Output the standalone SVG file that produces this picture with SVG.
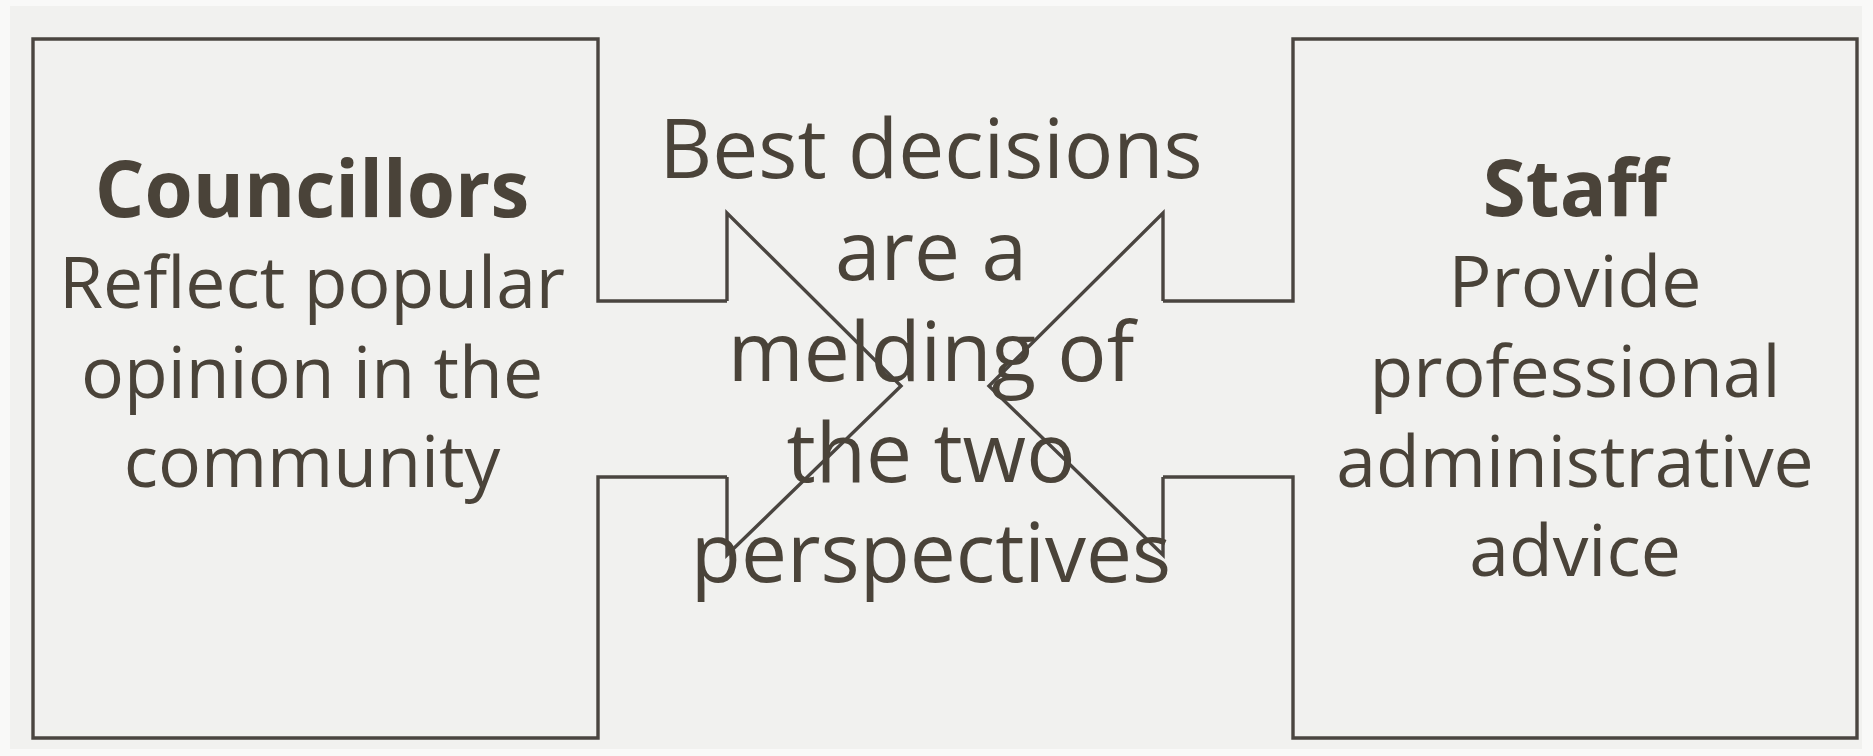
<svg xmlns="http://www.w3.org/2000/svg" width="1873" height="756" viewBox="0 0 1873 756">
<style>
.ln{fill:none;stroke:#4a4540;stroke-width:3.4;stroke-linejoin:miter}
.t{font-family:"Open Sans","DejaVu Sans",sans-serif;fill:#4a4339;text-anchor:middle}
.side{font-size:71.5px}
.hd{font-size:78px;font-weight:bold}
.ctr{font-size:82px}
</style>
<rect x="0" y="0" width="1873" height="756" fill="#f9f9f8"/>
<rect x="10" y="6" width="1852" height="743" fill="#f1f1ef"/>
<g id="councillors">
<path class="ln" d="M727,301 L598,301 L598,39 L33,39 L33,738 L598,738 L598,477 L727,477"/>
<text class="t hd" x="312" y="217">Councillors</text>
<text class="t side" x="312" y="308">Reflect popular</text>
<text class="t side" x="312" y="398">opinion in the</text>
<text class="t side" x="312" y="487">community</text>
</g>
<g id="staff">
<path class="ln" d="M1163,301 L1293,301 L1293,39 L1857,39 L1857,738 L1293,738 L1293,477 L1163,477"/>
<text class="t hd" x="1575" y="216">Staff</text>
<text class="t side" x="1575" y="307">Provide</text>
<text class="t side" x="1575" y="397">professional</text>
<text class="t side" x="1575" y="487">administrative</text>
<text class="t side" x="1575" y="576">advice</text>
</g>
<g id="connectors">
<path class="ln" d="M727,301 L727,213 L901,386 L727,555 L727,477"/>
<path class="ln" d="M1163,301 L1163,213 L989,386 L1163,555 L1163,477"/>
</g>
<g id="center">
<text class="t ctr" x="931" y="178">Best decisions</text>
<text class="t ctr" x="931" y="280">are a</text>
<text class="t ctr" x="931" y="381">melding of</text>
<text class="t ctr" x="931" y="482">the two</text>
<text class="t ctr" x="931" y="582">perspectives</text>
</g>
</svg>
